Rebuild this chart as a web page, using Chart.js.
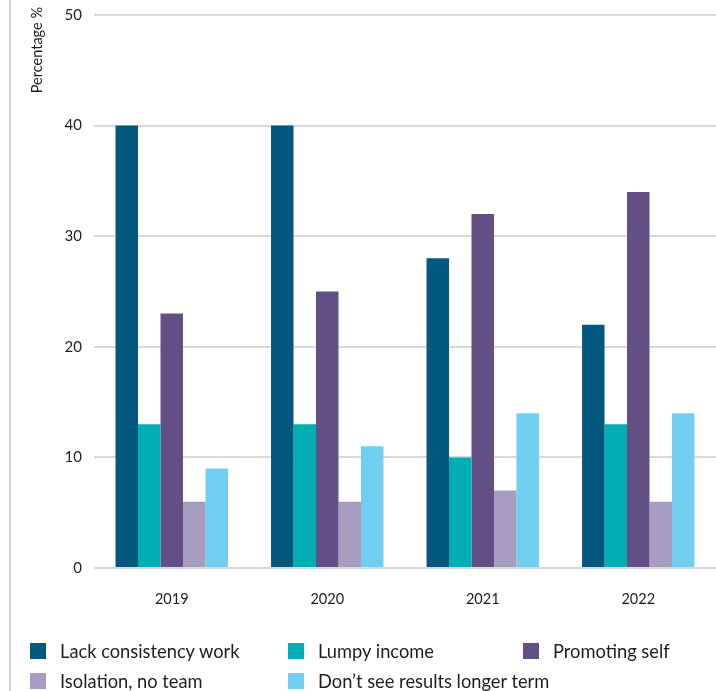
<!DOCTYPE html>
<html>
<head>
<meta charset="utf-8">
<script src="https://cdn.jsdelivr.net/npm/chart.js@4.4.0/dist/chart.umd.min.js"></script>
<style>
    html, body { margin: 0; padding: 0; background: #fff; }
    #wrap { position: relative; width: 716px; height: 691px; overflow: hidden; font-family: Lato, "Open Sans", sans-serif; }
    #frame { position: absolute; left: 9px; top: 0; width: 2px; height: 691px; background: #d6d6d6; }
    #chart { position: absolute; left: 0; top: 0; }
    #legend { position: absolute; left: 0; top: 0; width: 716px; height: 691px; pointer-events: none; }
    .item { position: absolute; display: flex; align-items: center; font-size: 18.3px; color: #1e1e1e; white-space: nowrap; }
    .box { width: 16px; height: 16px; margin-right: 14px; }
</style>
</head>
<body>
<div id="wrap">
    <div id="frame"></div>
    <canvas id="chart" width="716" height="691"></canvas>
    <div id="legend"></div>
</div>
<script>
// Business challenges by year

const years = ['2019', '2020', '2021', '2022'];
const seriesNames = ['Lack consistency work', 'Lumpy income', 'Promoting self', 'Isolation, no team', 'Don\u2019t see results longer term'];
const seriesColors = ['#02587f', '#00aeb4', '#614f86', '#a69dc1', '#70cff1'];

const lackWork = [40, 40, 28, 22];
const lumpyIncome = [13, 13, 10, 13];
const promotingSelf = [23, 25, 32, 34];
const isolation = [6, 6, 7, 6];
const noResults = [9, 11, 14, 14];

const yTicks = [0, 10, 20, 30, 40, 50];
const yTitle = 'Percentage %';

// legend slots (row, col) in the order of the series
const legendSlots = [[0, 0], [0, 1], [0, 2], [1, 0], [1, 1]];
const colX = [30, 288, 523];
const rowY = [640, 670];

// rotated y-axis title sitting at the top left
const yTitlePlugin = {
    id: 'yTitle',
    afterDraw(chart) {
        const c = chart.ctx;
        c.save();
        c.translate(37, 7);
        c.rotate(-Math.PI / 2);
        c.font = '14.5px Lato';
        c.fillStyle = '#1e1e1e';
        c.textAlign = 'right';
        c.textBaseline = 'middle';
        c.fillText(yTitle, 0, 0);
        c.restore();
    }
};

const ctx = document.getElementById('chart').getContext('2d');

const chart = new Chart(ctx, {
    type: 'bar',
    data: {
        labels: years,
        datasets: [lackWork, lumpyIncome, promotingSelf, isolation, noResults].map((vals, i) => ({
            label: seriesNames[i],
            data: vals,
            backgroundColor: seriesColors[i],
            borderWidth: 0,
            categoryPercentage: 0.723,
            barPercentage: 1
        }))
    },
    options: {
        responsive: false,
        animation: false,
        layout: { padding: { top: 15, right: 0, bottom: 0, left: 0 } },
        plugins: {
            legend: { display: false },
            tooltip: { enabled: false }
        },
        scales: {
            x: {
                grid: { display: false, drawTicks: false },
                border: { display: false },
                ticks: {
                    color: '#1e1e1e',
                    padding: 23,
                    font: { family: 'Lato', size: 14.5 }
                },
                afterFit: scale => { scale.height = 123; }
            },
            y: {
                min: 0,
                max: 50,
                afterBuildTicks: scale => { scale.ticks = yTicks.map(v => ({ value: v })); },
                grid: { color: '#d9d9d9', lineWidth: 2, drawTicks: false },
                border: { display: false },
                ticks: {
                    color: '#1e1e1e',
                    padding: 12,
                    font: { family: 'Lato', size: 15 }
                },
                afterFit: scale => {
                    scale.width = 94;
                    scale.paddingTop = 0;
                    scale.paddingBottom = 0;
                }
            }
        }
    },
    plugins: [yTitlePlugin]
});

// HTML legend built from the chart's own legend items
const legendEl = document.getElementById('legend');
chart.options.plugins.legend.labels.generateLabels(chart).forEach((item, i) => {
    const [r, c] = legendSlots[i];
    const div = document.createElement('div');
    div.className = 'item';
    div.style.left = colX[c] + 'px';
    div.style.top = rowY[r] + 'px';
    div.innerHTML = '<span class="box" style="background:' + item.fillStyle + '"></span><span>' + item.text + '</span>';
    legendEl.appendChild(div);
});
</script>
</body>
</html>
